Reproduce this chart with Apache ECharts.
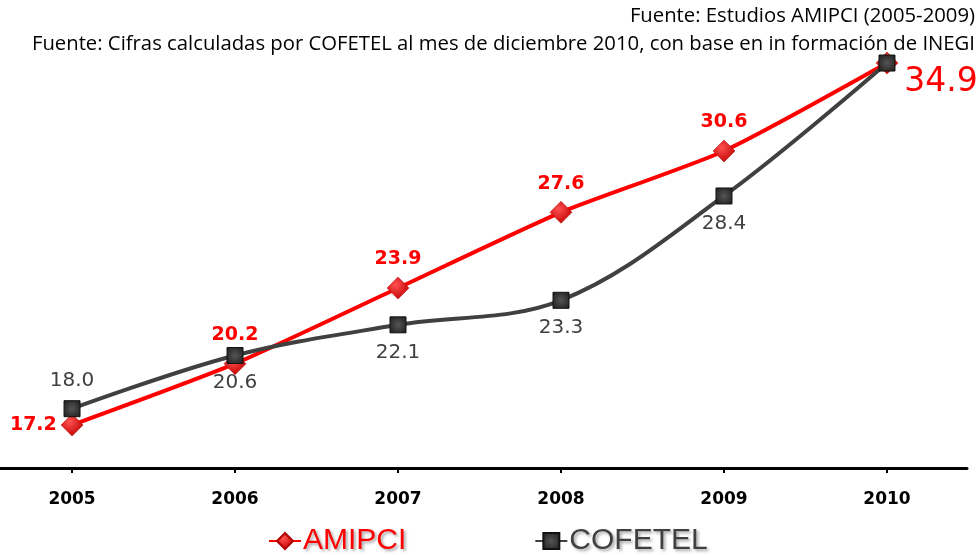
<!DOCTYPE html>
<html>
<head>
<meta charset="utf-8">
<script src="https://cdn.jsdelivr.net/npm/echarts@6/dist/echarts.min.js"></script>
<style>
  html, body { margin: 0; padding: 0; background: #fff; }
  #chart { width: 980px; height: 555px; }
</style>
</head>
<body>
<div id="chart"></div>
<script>
  // datos
  const years = [2005, 2006, 2007, 2008, 2009, 2010];
  const amipci = [17.2, 20.2, 23.9, 27.6, 30.6, 34.9];
  const cofetel = [18.0, 20.6, 22.1, 23.3, 28.4, 34.9];
  const cofetelLabelPos = ['top', 'bottom', 'bottom', 'bottom', 'bottom', null];

  const RED = '#ff0000';
  const GRAY = '#404040';

  const chart = echarts.init(document.getElementById('chart'));

  chart.setOption({
    animation: false,
    graphic: [
      {
        type: 'text', right: 5, top: 6,
        style: { text: 'Fuente: Estudios AMIPCI (2005-2009)', font: '20.3px "Open Sans"', fill: '#000', textAlign: 'right' }
      },
      {
        type: 'text', right: 5, top: 34,
        style: { text: 'Fuente: Cifras calculadas por COFETEL al mes de diciembre 2010, con base en in formación de INEGI', font: '20.3px "Open Sans"', fill: '#000', textAlign: 'right' }
      }
    ],
    legend: {
      bottom: -6,
      left: 263,
      itemGap: 128,
      itemWidth: 32,
      itemHeight: 20,
      data: [
        { name: 'AMIPCI', textStyle: { color: RED } },
        { name: 'COFETEL', textStyle: { color: GRAY } }
      ],
      textStyle: {
        fontFamily: 'Liberation Sans',
        fontSize: 30,
        padding: [0, 0, 0, -3],
        textShadowColor: 'rgba(0,0,0,0.35)',
        textShadowBlur: 3,
        textShadowOffsetX: 2,
        textShadowOffsetY: 2
      }
    },
    grid: { left: 0, right: 13, top: 38.5, bottom: 87 },
    xAxis: {
      type: 'value',
      min: 2004.558,
      max: 2010.491,
      splitLine: { show: false },
      axisLine: { show: true, lineStyle: { color: '#000', width: 3 } },
      axisTick: { show: true, customValues: years, length: 5, lineStyle: { color: '#000', width: 2 } },
      axisLabel: {
        customValues: years,
        formatter: v => String(v),
        color: '#000', fontWeight: 'bold', fontSize: 17, fontFamily: 'DejaVu Sans', margin: 23
      }
    },
    yAxis: {
      type: 'value',
      min: 15.1,
      max: 36.1,
      show: false
    },
    series: [
      {
        name: 'AMIPCI',
        type: 'line',
        data: amipci.map((v, i) => ({
          value: [years[i], v],
          label: i === 0 ? { position: 'left', distance: 4 }
               : i === 5 ? { position: 'right', distance: 6, fontSize: 33, fontWeight: 'normal', offset: [0, 19] }
               : { position: 'top', distance: 8 }
        })),
        smooth: 0.2,
        symbol: 'diamond',
        symbolSize: 22,
        itemStyle: {
          color: new echarts.graphic.RadialGradient(0.4, 0.35, 0.7, [
            { offset: 0, color: '#ff5050' },
            { offset: 1, color: '#c00000' }
          ]),
          borderColor: '#b00000',
          borderWidth: 0.5
        },
        lineStyle: { color: RED, width: 4 },
        label: {
          show: true,
          color: RED,
          fontSize: 19,
          fontWeight: 'bold',
          fontFamily: 'DejaVu Sans',
          formatter: p => p.value[1].toFixed(1)
        },
        z: 2
      },
      {
        name: 'COFETEL',
        type: 'line',
        data: cofetel.map((v, i) => ({
          value: [years[i], v],
          label: cofetelLabelPos[i] ? { show: true, position: cofetelLabelPos[i], distance: 9 } : { show: false }
        })),
        smooth: 0.35,
        symbol: 'rect',
        symbolSize: 16,
        itemStyle: {
          color: new echarts.graphic.RadialGradient(0.5, 0.5, 0.7, [
            { offset: 0, color: '#555555' },
            { offset: 1, color: '#1a1a1a' }
          ]),
          borderColor: '#111',
          borderWidth: 1
        },
        lineStyle: { color: GRAY, width: 4 },
        label: {
          color: GRAY,
          fontSize: 20,
          fontFamily: 'DejaVu Sans',
          formatter: p => p.value[1].toFixed(1)
        },
        z: 3
      }
    ]
  });
</script>
</body>
</html>
